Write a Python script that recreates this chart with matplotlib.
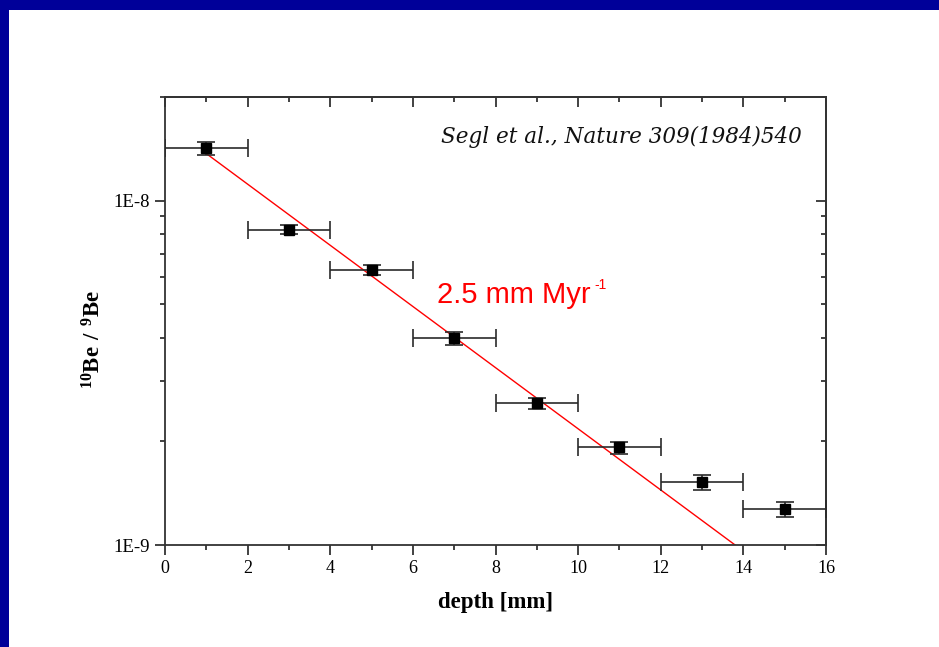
import math
import matplotlib
matplotlib.use("Agg")
import matplotlib.pyplot as plt
from matplotlib.patches import Rectangle
from matplotlib.ticker import FixedLocator, FuncFormatter, LogLocator, NullFormatter

# data
depth = [1, 3, 5, 7, 9, 11, 13, 15]
depth_err = [1, 1, 1, 1, 1, 1, 1, 1]
ratio = [1.42e-8, 8.24e-9, 6.31e-9, 3.98e-9, 2.58e-9, 1.92e-9, 1.52e-9, 1.27e-9]
ratio_err = [6.0e-10, 2.4e-10, 2.1e-10, 1.8e-10, 1.0e-10, 0.77e-10, 0.8e-10, 0.67e-10]

# fitted erosion line (2.5 mm/Myr), end points
fit_x = [1.0, 13.8]
fit_y = [1.37e-8, 1.0e-9]

fig = plt.figure(figsize=(9.39, 6.47), dpi=100)
fig.patch.set_facecolor("white")

# blue slide frame (top and left)
fig.patches.append(Rectangle((0, 1 - 10 / 647), 1, 10 / 647, transform=fig.transFigure,
                             facecolor="#000099", edgecolor="none", zorder=0))
fig.patches.append(Rectangle((0, 0), 9 / 939, 1, transform=fig.transFigure,
                             facecolor="#000099", edgecolor="none", zorder=0))

ax = fig.add_axes([165 / 939, 1 - 545 / 647, 661 / 939, 448 / 647])
ax.set_yscale("log")
ax.set_xlim(0, 16)
ax.set_ylim(1e-9, 2e-8)

ax.plot(fit_x, fit_y, color="red", lw=1.0, zorder=2)
ax.errorbar(depth, ratio, xerr=depth_err, yerr=ratio_err, fmt="s", color="black",
            ms=6.5, ecolor="#2a2a2a", elinewidth=1.2, capsize=6.5, capthick=1.2, zorder=3)

serif = "Liberation Serif"
ax.xaxis.set_major_locator(FixedLocator(range(0, 17, 2)))
ax.xaxis.set_minor_locator(FixedLocator(range(1, 16, 2)))
ax.yaxis.set_major_locator(FixedLocator([1e-9, 1e-8]))
ax.yaxis.set_minor_locator(LogLocator(base=10, subs=range(2, 10)))
ax.yaxis.set_minor_formatter(NullFormatter())
ax.yaxis.set_major_formatter(FuncFormatter(lambda v, p: "1E%d" % round(math.log10(v))))

for s in ax.spines.values():
    s.set_color("#333333")
    s.set_linewidth(1.3)
ax.tick_params(which="both", direction="out", color="#333333", width=1.3)
ax.tick_params(which="major", length=7, pad=4)
ax.tick_params(which="minor", length=3.5)
ax.tick_params(axis="x", labelsize=13)
ax.tick_params(axis="y", labelsize=13.5)
for lab in ax.get_xticklabels() + ax.get_yticklabels():
    lab.set_family(serif)

# mirrored ticks pointing inwards on top and right
top = ax.secondary_xaxis("top")
top.xaxis.set_major_locator(FixedLocator(range(0, 17, 2)))
top.xaxis.set_minor_locator(FixedLocator(range(1, 16, 2)))
top.tick_params(which="both", direction="in", labeltop=False, color="#333333", width=1.3)
top.tick_params(which="major", length=7)
top.tick_params(which="minor", length=3.5)
top.spines["top"].set_linewidth(1.3)
top.spines["top"].set_color("#333333")

right = ax.secondary_yaxis("right")
right.yaxis.set_major_locator(FixedLocator([1e-9, 1e-8]))
right.yaxis.set_minor_locator(LogLocator(base=10, subs=range(2, 10)))
right.tick_params(which="both", direction="in", labelright=False, color="#333333", width=1.3)
right.tick_params(which="major", length=7)
right.tick_params(which="minor", length=3.5)
right.spines["right"].set_linewidth(1.3)
right.spines["right"].set_color("#333333")

ax.set_xlabel("depth [mm]", family=serif, fontsize=16.5, fontweight="bold")
ax.xaxis.set_label_coords(0.5, -0.106)
ax.set_ylabel(r"$\mathregular{^{10}Be\ /\ ^{9}Be}$", family=serif, fontsize=16.5,
              fontweight="bold")
ax.yaxis.set_label_coords(-0.09, 0.458)

ax.text(0.964, 0.911, "Segl et al., Nature 309(1984)540", transform=ax.transAxes,
        ha="right", va="center", family="DejaVu Serif", style="italic", fontsize=15.5,
        color="#111111")
ax.text(0.411, 0.540, "2.5 mm Myr", transform=ax.transAxes,
        ha="left", va="baseline", family="Liberation Sans", fontsize=21, color="red")
ax.text(0.649, 0.572, "-1", transform=ax.transAxes,
        ha="left", va="baseline", family="Liberation Sans", fontsize=10, color="red")

fig.savefig("out.png", dpi=100, facecolor="white")
